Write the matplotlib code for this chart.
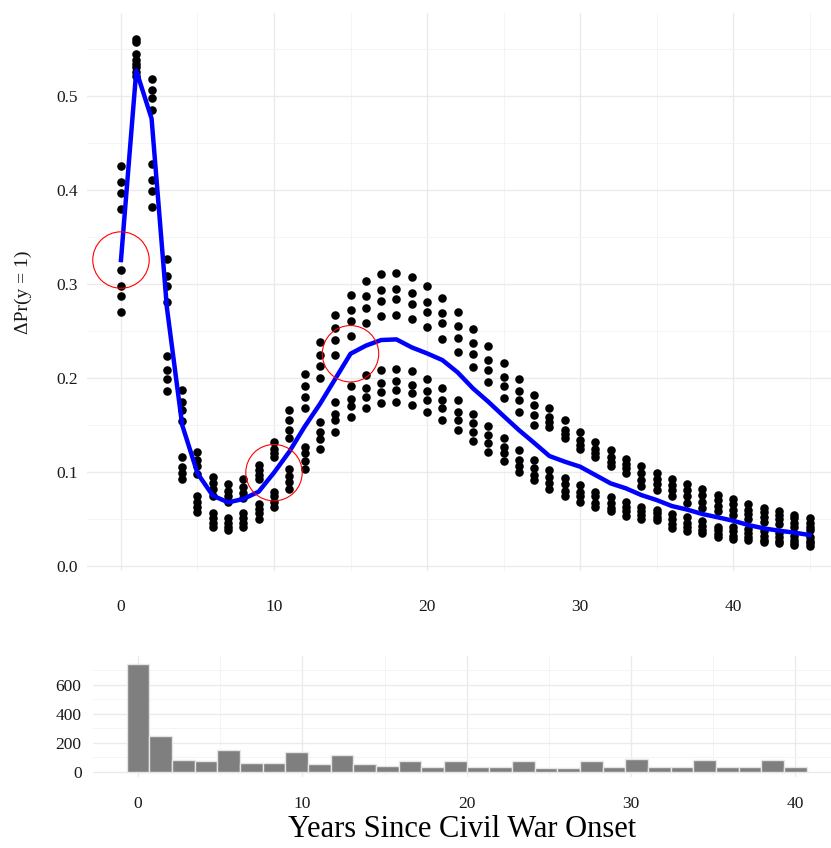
import numpy as np
import matplotlib
matplotlib.use("Agg")
from matplotlib import pyplot as plt

plt.rcParams['font.family'] = ['Liberation Serif', 'DejaVu Serif']

# years since onset for the simulated effects
years = list(range(46))

# simulated first differences: four upper and four lower draws per year
up1 = [0.426, 0.561, 0.518, 0.327, 0.187, 0.121, 0.095, 0.087, 0.093, 0.107, 0.132, 0.166, 0.204, 0.238, 0.267, 0.288,
       0.303, 0.311, 0.312, 0.307, 0.298, 0.285, 0.270, 0.252, 0.234, 0.216, 0.199, 0.182, 0.168, 0.155, 0.143, 0.132,
       0.123, 0.114, 0.106, 0.099, 0.093, 0.087, 0.082, 0.076, 0.071, 0.066, 0.062, 0.059, 0.054, 0.051]
up2 = [0.409, 0.557, 0.506, 0.309, 0.174, 0.113, 0.088, 0.080, 0.084, 0.102, 0.125, 0.155, 0.191, 0.224, 0.253, 0.272,
       0.287, 0.294, 0.295, 0.290, 0.281, 0.269, 0.255, 0.237, 0.219, 0.201, 0.186, 0.171, 0.158, 0.145, 0.134, 0.125,
       0.116, 0.109, 0.099, 0.093, 0.086, 0.081, 0.076, 0.070, 0.066, 0.060, 0.057, 0.054, 0.051, 0.046]
up3 = [0.397, 0.545, 0.498, 0.298, 0.166, 0.106, 0.082, 0.074, 0.078, 0.097, 0.120, 0.145, 0.180, 0.213, 0.240, 0.261,
       0.275, 0.282, 0.284, 0.279, 0.270, 0.258, 0.243, 0.226, 0.209, 0.192, 0.177, 0.161, 0.153, 0.140, 0.129, 0.120,
       0.111, 0.104, 0.092, 0.087, 0.081, 0.074, 0.068, 0.064, 0.060, 0.055, 0.052, 0.050, 0.046, 0.042]
up4 = [0.380, 0.538, 0.485, 0.281, 0.154, 0.098, 0.075, 0.068, 0.072, 0.093, 0.116, 0.136, 0.168, 0.200, 0.225, 0.245,
       0.259, 0.266, 0.267, 0.263, 0.254, 0.242, 0.228, 0.212, 0.196, 0.179, 0.164, 0.150, 0.148, 0.136, 0.125, 0.116,
       0.106, 0.099, 0.085, 0.081, 0.075, 0.067, 0.062, 0.058, 0.054, 0.050, 0.047, 0.045, 0.042, 0.038]
lo1 = [0.315, 0.534, 0.428, 0.223, 0.116, 0.074, 0.056, 0.051, 0.056, 0.066, 0.079, 0.103, 0.127, 0.153, 0.174, 0.191,
       0.203, 0.209, 0.210, 0.207, 0.199, 0.189, 0.177, 0.162, 0.149, 0.136, 0.123, 0.113, 0.102, 0.094, 0.086, 0.079,
       0.073, 0.068, 0.063, 0.060, 0.055, 0.052, 0.048, 0.042, 0.042, 0.039, 0.037, 0.035, 0.032, 0.031]
lo2 = [0.298, 0.531, 0.411, 0.209, 0.105, 0.068, 0.051, 0.046, 0.051, 0.061, 0.074, 0.096, 0.120, 0.143, 0.162, 0.178,
       0.189, 0.195, 0.197, 0.193, 0.186, 0.177, 0.164, 0.152, 0.139, 0.127, 0.113, 0.104, 0.095, 0.087, 0.079, 0.074,
       0.067, 0.063, 0.059, 0.056, 0.050, 0.046, 0.043, 0.038, 0.037, 0.035, 0.032, 0.031, 0.028, 0.027]
lo3 = [0.287, 0.526, 0.399, 0.199, 0.099, 0.063, 0.046, 0.042, 0.046, 0.056, 0.068, 0.089, 0.112, 0.135, 0.155, 0.170,
       0.180, 0.185, 0.187, 0.184, 0.177, 0.168, 0.155, 0.143, 0.131, 0.120, 0.106, 0.097, 0.088, 0.080, 0.074, 0.067,
       0.062, 0.058, 0.054, 0.052, 0.045, 0.041, 0.038, 0.034, 0.032, 0.031, 0.028, 0.027, 0.025, 0.024]
lo4 = [0.270, 0.521, 0.382, 0.186, 0.093, 0.057, 0.042, 0.038, 0.041, 0.050, 0.063, 0.082, 0.103, 0.125, 0.143, 0.158,
       0.168, 0.173, 0.174, 0.171, 0.164, 0.155, 0.145, 0.133, 0.121, 0.112, 0.100, 0.091, 0.082, 0.074, 0.068, 0.063,
       0.058, 0.053, 0.050, 0.049, 0.040, 0.037, 0.035, 0.031, 0.029, 0.028, 0.026, 0.024, 0.022, 0.021]

# mean effect line
mean_eff = [0.3255, 0.527, 0.476, 0.275, 0.150, 0.0986, 0.0749, 0.0677, 0.0713, 0.0791, 0.0993, 0.1216, 0.1482,
            0.1723, 0.199, 0.2258, 0.2344, 0.2404, 0.2411, 0.2326, 0.2262, 0.2191, 0.206, 0.189, 0.1748, 0.1596,
            0.1447, 0.131, 0.117, 0.111, 0.1057, 0.0968, 0.0879, 0.0826, 0.0755, 0.0702, 0.0638, 0.060, 0.0553,
            0.0518, 0.0482, 0.0436, 0.0401, 0.0376, 0.0355, 0.033]

# highlighted years
circle_years = [0, 10, 15]

# histogram of observed years since onset (30 bins over 0..40)
hist_counts = [743, 245, 82, 77, 152, 61, 64, 136, 55, 116, 52, 39, 77, 34, 77,
               32, 32, 77, 30, 30, 77, 36, 91, 34, 34, 84, 34, 34, 86, 34]
hist_lo, hist_hi = 0, 40

W, H = 831, 848
fig = plt.figure(figsize=(W / 100, H / 100), dpi=100)

def px_axes(l, t, r, b):
    return fig.add_axes([l / W, 1 - b / H, (r - l) / W, (b - t) / H])

grid_major = '#EBEBEB'
grid_minor = '#F4F4F4'
txt_col = '#1A1A1A'

def style(ax):
    for s in ax.spines.values():
        s.set_visible(False)
    ax.grid(True, which='major', color=grid_major, lw=1.0, zorder=0)
    ax.grid(True, which='minor', color=grid_minor, lw=0.7, zorder=0)
    ax.set_axisbelow(True)
    ax.tick_params(which='both', length=0, labelsize=12.5, labelcolor=txt_col)

# ---- top panel
ax = px_axes(86.7, 13, 831, 571)
style(ax)
for s in [up1, up2, up3, up4, lo1, lo2, lo3, lo4]:
    ax.scatter(years, s, s=38, color='black', lw=0, zorder=3)
ax.plot(years, mean_eff, color='#0000FF', lw=3.2, zorder=4, solid_joinstyle='round')
cy = [mean_eff[years.index(y)] for y in circle_years]
ax.scatter(circle_years, cy, s=1650, facecolors='none', edgecolors='red', lw=0.8, zorder=5)
ax.set_xlim(-2.24, 46.4)
ax.set_ylim(-0.0053, 0.5883)
ax.set_xticks([0, 10, 20, 30, 40])
ax.set_xticks([5, 15, 25, 35, 45], minor=True)
ax.set_yticks([0.0, 0.1, 0.2, 0.3, 0.4, 0.5])
ax.set_yticks([0.05, 0.15, 0.25, 0.35, 0.45, 0.55], minor=True)
ax.set_yticklabels(['0.0', '0.1', '0.2', '0.3', '0.4', '0.5'])
ax.tick_params(axis='x', pad=20)
ax.tick_params(axis='y', pad=6)
ax.set_ylabel('\u0394Pr(y = 1)', fontsize=14, color=txt_col, labelpad=18)

# ---- bottom panel
ax2 = px_axes(92.7, 656, 831, 777)
style(ax2)
centers = np.linspace(hist_lo, hist_hi, len(hist_counts))
bw = (hist_hi - hist_lo) / (len(hist_counts) - 1)
ax2.bar(centers, hist_counts, width=bw, color='#7F7F7F', edgecolor='#E6E6E6', lw=1.0, zorder=3)
ax2.set_xlim(-2.76, 42.17)
ax2.set_ylim(-34.5, 800)
ax2.set_xticks([0, 10, 20, 30, 40])
ax2.set_xticks([5, 15, 25, 35], minor=True)
ax2.set_yticks([0, 200, 400, 600])
ax2.set_yticks([100, 300, 500, 700], minor=True)
ax2.tick_params(axis='x', pad=14)
ax2.tick_params(axis='y', pad=8)
ax2.set_xlabel('Years Since Civil War Onset', fontsize=22, color='black', labelpad=2)

fig.savefig('out.png', dpi=100)
